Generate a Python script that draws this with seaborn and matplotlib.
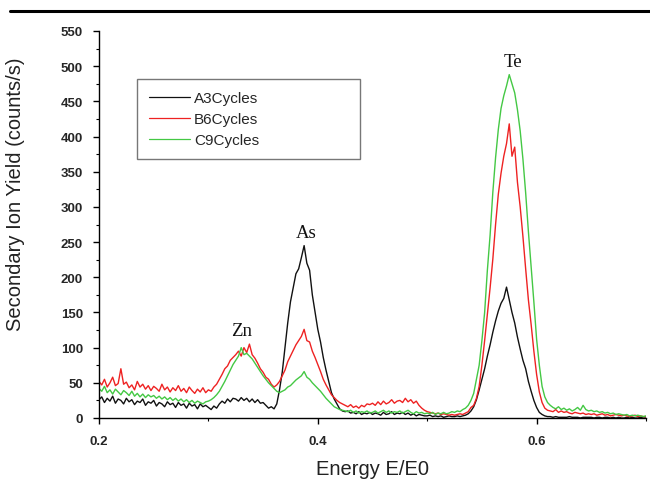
import numpy as np
import pandas as pd
import seaborn as sns
import matplotlib.pyplot as plt
from matplotlib.lines import Line2D
from matplotlib.ticker import MultipleLocator

# one reading every 0.0025 E/E0, 0.2 .. 0.7
energy = np.round(np.arange(0.2, 0.70001, 0.0025), 4)

a3_cycles = [
    26, 30, 22, 28, 24, 31, 21, 27, 25, 20,
    28, 23, 26, 19, 24, 22, 27, 18, 23, 21,
    25, 17, 22, 20, 16, 23, 19, 21, 15, 22,
    18, 20, 14, 21, 17, 19, 13, 20, 16, 18,
    15, 12, 17, 14, 20, 24, 21, 27, 23, 28,
    27, 24, 29, 25, 28, 23, 27, 22, 26, 21,
    22, 18, 14, 16, 13, 20, 40, 65, 100, 135,
    165, 185, 205, 212, 228, 245, 220, 210, 175, 150,
    126, 108, 86, 68, 52, 36, 27, 20, 13, 10,
    9, 10, 7, 8, 6, 9, 5, 7, 6, 8,
    5, 7, 6, 4, 8, 5, 6, 9, 5, 7,
    6, 8, 5, 7, 4, 6, 3, 5, 4, 3,
    3, 4, 2, 3, 2, 3, 1, 2, 3, 2,
    2, 3, 2, 3, 4, 6, 10, 16, 26, 40,
    55, 70, 88, 104, 122, 138, 152, 163, 170, 186,
    168, 150, 135, 115, 98, 82, 70, 52, 38, 25,
    15, 8, 5, 3, 2, 2, 1, 2, 1, 1,
    1, 1, 2, 1, 1, 1, 0, 1, 1, 1,
    1, 0, 1, 1, 0, 1, 1, 0, 1, 0,
    1, 0, 0, 1, 0, 1, 0, 0, 1, 0,
    0]

b6_cycles = [
    52, 47, 55, 44, 50, 58, 46, 49, 70, 48,
    51, 43, 47, 40, 52, 44, 48, 41, 46, 39,
    45, 42, 38, 48, 40, 44, 37, 43, 39, 46,
    38, 42, 36, 44, 39, 35, 41, 37, 43, 36,
    40, 38, 44, 48, 55, 62, 70, 74, 82, 86,
    90, 95, 88, 100, 93, 105, 90, 85, 78, 70,
    65, 58, 55, 48, 44, 47, 52, 60, 68, 80,
    88, 96, 104, 110, 116, 126, 110, 108, 95, 86,
    76, 66, 55, 47, 40, 33, 29, 25, 22, 20,
    18, 16, 19, 15, 17, 14, 18, 16, 20, 19,
    21, 18, 23, 19, 24, 20, 22, 26, 21, 24,
    25, 22, 28, 23, 26, 21, 24, 18, 14, 11,
    9, 8, 7, 6, 7, 5, 6, 5, 4, 5,
    4, 5, 6, 5, 7, 9, 15, 18, 28, 45,
    75, 110, 148, 185, 226, 275, 318, 348, 372, 390,
    418, 372, 385, 335, 300, 258, 212, 168, 133, 95,
    62, 37, 22, 14, 11, 10, 9, 12, 8, 10,
    8, 9, 7, 6, 8, 7, 6, 7, 5, 6,
    5, 6, 4, 5, 6, 4, 5, 3, 4, 5,
    4, 3, 4, 3, 2, 3, 4, 2, 3, 2,
    2]

c9_cycles = [
    42, 38, 45, 36, 40, 34, 41, 37, 33, 39,
    36, 32, 38, 31, 35, 30, 34, 29, 33, 30,
    32, 28, 31, 27, 30, 26, 29, 25, 28, 24,
    27, 23, 26, 22, 25, 21, 24, 22, 20, 23,
    24, 26, 29, 33, 38, 45, 52, 60, 68, 76,
    82, 88, 100, 90, 92, 88, 84, 78, 72, 66,
    60, 55, 50, 46, 42, 38, 36, 38, 40, 44,
    46, 50, 54, 57, 60, 66, 58, 55, 50, 46,
    42, 38, 33, 28, 24, 20, 16, 14, 12, 11,
    10, 9, 11, 8, 10, 7, 9, 8, 10, 7,
    8, 10, 7, 9, 11, 8, 10, 7, 9, 8,
    10, 7, 9, 11, 8, 6, 9, 7, 8, 6,
    7, 6, 8, 5, 7, 6, 8, 6, 7, 9,
    8, 10, 9, 12, 14, 18, 25, 35, 55, 75,
    110, 150, 210, 260, 321, 370, 410, 440, 458, 472,
    488, 475, 462, 438, 408, 368, 320, 265, 215, 165,
    112, 75, 45, 30, 22, 18, 15, 13, 16, 12,
    14, 11, 13, 10, 12, 15, 11, 18, 12, 10,
    11, 9, 10, 8, 9, 7, 8, 6, 7, 5,
    6, 5, 4, 5, 3, 4, 3, 4, 3, 2,
    3]

sample_names = ['A3Cycles', 'B6Cycles', 'C9Cycles']
line_colors = ['#111111', '#ee2222', '#44c844']

peak_labels = ['Zn', 'As', 'Te']
peak_x = [0.330, 0.389, 0.578]
peak_y = [124, 263, 507]

if __name__ == "__main__":

    # long table for seaborn
    df = pd.concat([
        pd.DataFrame({'energy': energy, 'yield': vals, 'sample': name})
        for name, vals in zip(sample_names, [a3_cycles, b6_cycles, c9_cycles])
    ])

    sns.set_style("ticks")
    plt.rcParams['font.family'] = ['Liberation Sans', 'DejaVu Sans']
    # tick labels are bold in the original, everything else gets normal weight below
    plt.rcParams['font.weight'] = 'bold'

    fig = plt.figure(figsize=(6.5, 4.81), dpi=100)
    ax = fig.add_axes([99 / 650, 62 / 481, 547 / 650, 387 / 481])

    sns.lineplot(data=df, x='energy', y='yield', hue='sample', palette=line_colors,
                 estimator=None, linewidth=1.0, ax=ax)

    ax.set_xlim(0.2, 0.7)
    ax.set_ylim(0, 550)
    ax.xaxis.set_major_locator(MultipleLocator(0.2))
    ax.xaxis.set_minor_locator(MultipleLocator(0.1))
    ax.yaxis.set_major_locator(MultipleLocator(50))
    ax.yaxis.set_minor_locator(MultipleLocator(25))
    ax.tick_params(which='major', direction='out', length=4.5, width=1,
                   labelsize=9.5, color='black')
    ax.tick_params(axis='y', which='major', pad=7)
    ax.tick_params(axis='x', which='major', pad=8)
    ax.tick_params(which='minor', direction='out', length=2.5, width=0.8, color='black')

    sns.despine(ax=ax)
    for sp in ['left', 'bottom']:
        ax.spines[sp].set_linewidth(1.0)
        ax.spines[sp].set_color('black')

    ax.set_xlabel('Energy E/E0', fontsize=14.5, fontweight='normal', color='#222222')
    ax.set_ylabel('Secondary Ion Yield (counts/s)', fontsize=14.5, fontweight='normal',
                  color='#222222')
    ax.xaxis.set_label_coords(0.5, -0.105)
    ax.yaxis.set_label_coords(-0.135, 0.58)

    for lab, px, py in zip(peak_labels, peak_x, peak_y):
        ax.text(px, py, lab, ha='center', va='center', fontsize=13.5,
                fontweight='normal', family='Liberation Serif', color='#111111')

    leg = ax.legend(loc='upper left', bbox_to_anchor=(0.069, 0.677, 0.408, 0.199),
                    mode='expand', prop={'size': 11, 'weight': 'normal'},
                    frameon=True, fancybox=False,
                    handlelength=2.7, labelspacing=0.45, borderpad=0.8,
                    handletextpad=0.25, borderaxespad=0)
    leg.get_frame().set_edgecolor('#555555')
    leg.get_frame().set_linewidth(1.0)
    for h in leg.get_lines():
        h.set_linewidth(0.9)

    # rule at the top of the page
    fig.add_artist(Line2D([10 / 650, 1.0], [1 - 12 / 481, 1 - 12 / 481],
                          transform=fig.transFigure, color='black', lw=2.2))

    fig.savefig('out.png', dpi=100)
